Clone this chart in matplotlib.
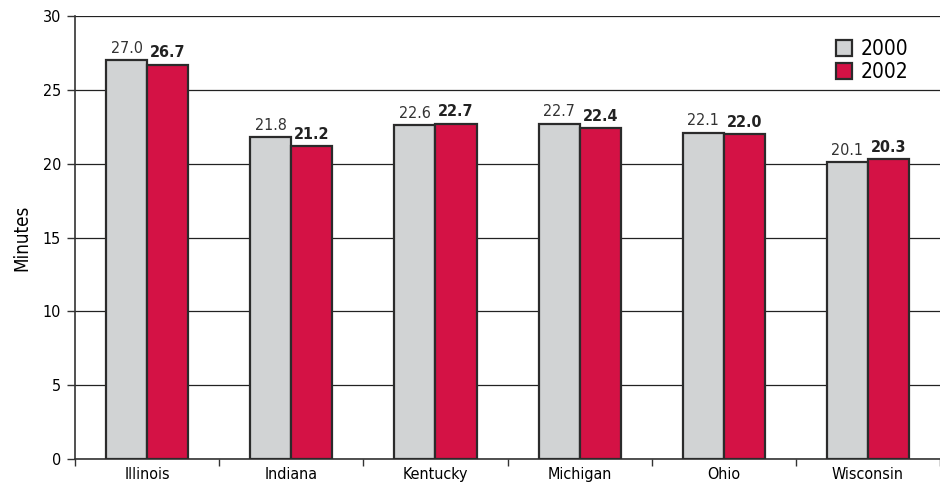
import matplotlib.pyplot as plt
import numpy as np

states = ['Illinois', 'Indiana', 'Kentucky', 'Michigan', 'Ohio', 'Wisconsin']
minutes_2000 = [27.0, 21.8, 22.6, 22.7, 22.1, 20.1]
minutes_2002 = [26.7, 21.2, 22.7, 22.4, 22.0, 20.3]

plt.rcParams['font.family'] = ['DejaVu Sans']
plt.rcParams['font.stretch'] = 'condensed'

fig = plt.figure(figsize=(9.4, 4.86), dpi=100)
ax = fig.add_axes([0.0798, 0.0556, 0.9202, 0.9114])

x = np.arange(len(states))
w = 0.285
edge = '#2b2b2b'
ax.bar(x - w / 2, minutes_2000, w, color='#d1d3d4', edgecolor=edge, linewidth=1.6, label='2000', zorder=3)
ax.bar(x + w / 2, minutes_2002, w, color='#d41245', edgecolor=edge, linewidth=1.6, label='2002', zorder=3)

for xi, v in zip(x, minutes_2000):
    ax.text(xi - w / 2, v + 0.3, f'{v:.1f}', ha='center', va='bottom', fontsize=11.5, color='#333333')
for xi, v in zip(x, minutes_2002):
    ax.text(xi + w / 2, v + 0.3, f'{v:.1f}', ha='center', va='bottom', fontsize=11.5, color='#222222', fontweight='bold')

ax.set_xlim(-0.5, len(states) - 0.5)
ax.set_ylim(0, 30)
ax.set_yticks(np.arange(0, 31, 5))
ax.yaxis.grid(True, color='#222222', linewidth=0.9, zorder=0)
ax.set_axisbelow(True)

ax.set_xticks(x)
ax.set_xticklabels(states, fontsize=11.5)
ax.tick_params(axis='x', which='major', length=0, pad=6)
ax.set_xticks(np.arange(-0.5, len(states)), minor=True)
ax.tick_params(axis='x', which='minor', length=5, width=1, color='#333333')
ax.tick_params(axis='y', labelsize=11.5, length=6, width=1, color='#333333', pad=4)

for s in ['top', 'right']:
    ax.spines[s].set_visible(False)
ax.spines['left'].set_color('#333333')
ax.spines['bottom'].set_color('#333333')
ax.spines['left'].set_linewidth(1.2)
ax.spines['bottom'].set_linewidth(1.2)

ax.set_ylabel('Minutes', fontsize=13.5, labelpad=8)

ax.legend(loc='upper right', bbox_to_anchor=(0.985, 0.99), frameon=False, fontsize=15,
          handlelength=0.8, handleheight=0.8, handletextpad=0.4, labelspacing=0.15)

fig.savefig('out.png', dpi=100)
